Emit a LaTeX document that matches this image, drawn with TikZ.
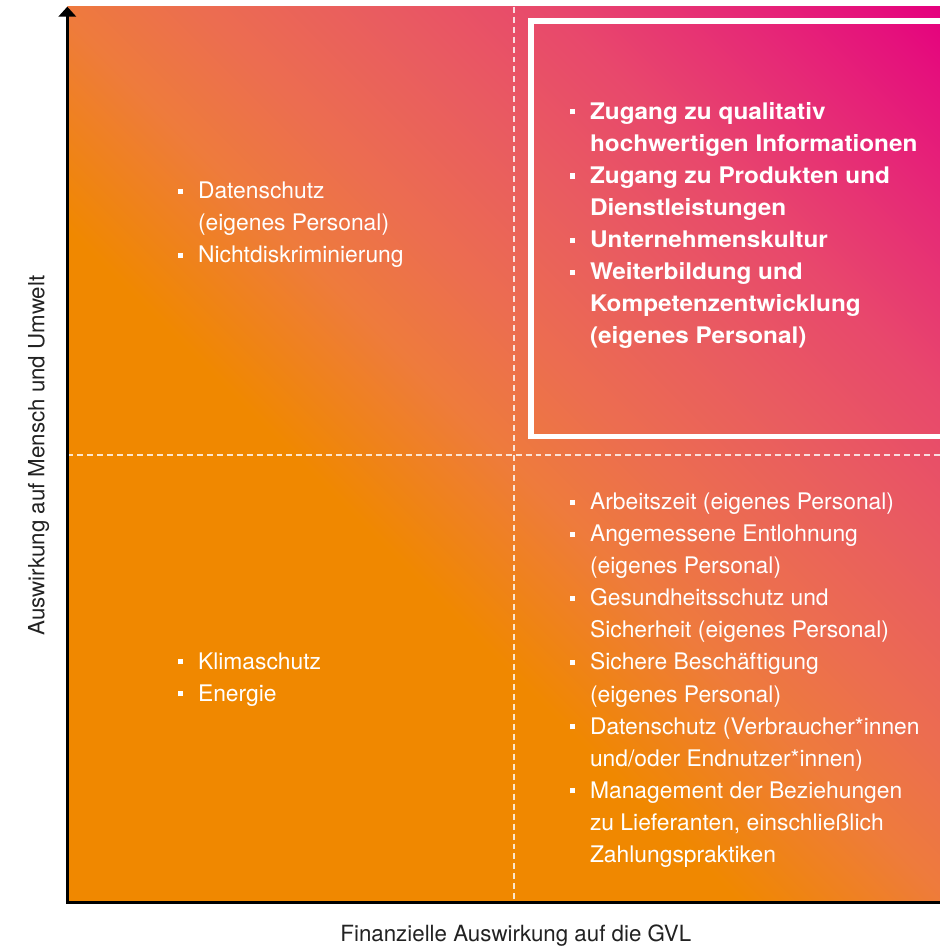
\documentclass[tikz,border=0pt]{standalone}
\usepackage{fontspec}
\setmainfont{TeX Gyre Heros}[BoldFeatures={FakeStretch=1.065}]
\usetikzlibrary{arrows.meta,positioning}

\definecolor{gvlOrange}{HTML}{F08800}
\definecolor{gvlMidA}{HTML}{EE7B3C}
\definecolor{gvlMidB}{HTML}{EC6D50}
\definecolor{gvlMidC}{HTML}{E95C60}
\definecolor{gvlMidD}{HTML}{E8486C}
\definecolor{gvlMidE}{HTML}{E62A76}
\definecolor{gvlMidF}{HTML}{E5107C}
\definecolor{gvlMagenta}{HTML}{E5007E}
\definecolor{gvlGray}{HTML}{222222}

% corners of the square sit at 14.6bp and 85.4bp
\pgfdeclareverticalshading{gvlfade}{100bp}{%
	color(0bp)=(gvlOrange); color(41.5bp)=(gvlOrange);
	color(50bp)=(gvlMidA); color(55.7bp)=(gvlMidB);
	color(62.7bp)=(gvlMidC); color(69.8bp)=(gvlMidD);
	color(76.9bp)=(gvlMidE); color(82.6bp)=(gvlMidF);
	color(85.4bp)=(gvlMagenta); color(100bp)=(gvlMagenta)}

\newcommand{\gvlbullet}{\makebox[11.6pt][l]{\rule[2.83pt]{2.9pt}{2.9pt}}}
\newcommand{\gvlindent}{\hspace*{11.6pt}}
\newcommand{\gvlstrut}{\rule{0pt}{14pt}}

\tikzset{
	quadtext/.style={anchor=north west, inner sep=0pt, align=left, text=white,
		yshift=14pt, font=\fontsize{13}{18.25}\selectfont},
	quadbold/.style={quadtext, font=\fontsize{13}{18.25}\selectfont\bfseries},
	axislabel/.style={anchor=base, inner sep=0pt, text=gvlGray,
		font=\fontsize{12.7}{15}\selectfont},
	quadline/.style={white, opacity=0.8, line width=1.13pt,
		dash pattern=on 3.4pt off 2.27pt},
	axisline/.style={black, line width=1.7pt,
		-{Triangle[length=5.67pt, width=9.87pt]}},
	frameline/.style={white, line width=3.1pt},
}

\begin{document}
\begin{tikzpicture}[x=0.02cm, y=-0.02cm]

	\def\xAxis{67.3}
	\def\yAxis{902}
	\def\yTop{6.7}
	\def\xEnd{940}
	\def\xMid{513.7}
	\def\yMid{455.3}
	%
	\def\xLeftList{177.3}
	\def\xRightList{569.3}

	\useasboundingbox (0,0) rectangle (940,947);

	% background
	\shade[shading=gvlfade, shading angle=-45]
		(\xAxis, \yTop) rectangle (\xEnd, \yAxis);

	% quadrant lines
	\draw[quadline] (\xMid, \yTop) -- (\xMid, \yAxis);
	\draw[quadline] (\xAxis, \yMid) -- (\xEnd, \yMid);

	% frame
	\draw[frameline]
		(\xEnd, 21.2) -- (530.8, 21.2) -- (530.8, 436.7) -- (\xEnd, 436.7);

	% axes
	\coordinate (origin) at (\xAxis, \yAxis);
	\coordinate (xEnd) at (\xEnd, \yAxis);
	\coordinate (yTop) at (\xAxis, \yTop);
	\draw[axisline] (xEnd) -- (origin) -- (yTop);

	\node[axislabel] (xLabel) at (515.8, 941.7)
		{Finanzielle Auswirkung auf die GVL};
	\node[axislabel, rotate=90] (yLabel) at (44.3, 455.5)
		{Auswirkung auf Mensch und Umwelt};

	% quadrants
	\node[quadtext] (qTopLeft) at (\xLeftList, 198.3)
		{\gvlstrut\gvlbullet Datenschutz\\
		\gvlindent(eigenes Personal)\\
		\gvlbullet Nichtdiskriminierung};

	\node[quadbold] (qTopRight) at (\xRightList, 119)
		{\gvlstrut\gvlbullet Zugang zu qualitativ\\
		\gvlindent hochwertigen Informationen\\
		\gvlbullet Zugang zu Produkten und\\
		\gvlindent Dienstleistungen\\
		\gvlbullet Unternehmenskultur\\
		\gvlbullet Weiterbildung und\\
		\gvlindent Kompetenzentwicklung\\
		\gvlindent(eigenes Personal)};

	\node[quadtext] (qBottomLeft) at (\xLeftList, 669)
		{\gvlstrut\gvlbullet Klimaschutz\\
		\gvlbullet Energie};

	\node[quadtext] (qBottomRight) at (\xRightList, 509.3)
		{\gvlstrut\gvlbullet Arbeitszeit (eigenes Personal)\\
		\gvlbullet Angemessene Entlohnung\\
		\gvlindent(eigenes Personal)\\
		\gvlbullet Gesundheitsschutz und\\
		\gvlindent Sicherheit (eigenes Personal)\\
		\gvlbullet Sichere Beschäftigung\\
		\gvlindent(eigenes Personal)\\
		\gvlbullet Datenschutz (Verbraucher*innen\\
		\gvlindent und/oder Endnutzer*innen)\\
		\gvlbullet Management der Beziehungen\\
		\gvlindent zu Lieferanten, einschließlich\\
		\gvlindent Zahlungspraktiken};

\end{tikzpicture}
\end{document}
